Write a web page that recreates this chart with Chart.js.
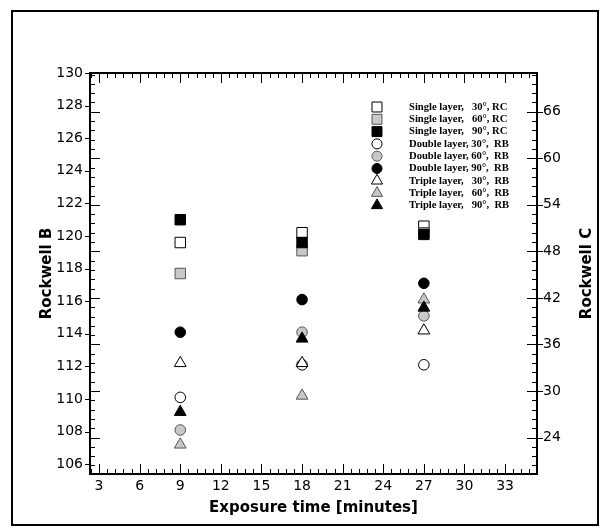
<!DOCTYPE html>
<html>
<head>
<meta charset="utf-8">
<script src="https://cdn.jsdelivr.net/npm/chart.js@4.4.0/dist/chart.umd.min.js"></script>
<style>
  html, body { margin: 0; padding: 0; background: #fff; }
  #wrap { position: relative; width: 607px; height: 531px; }
</style>
</head>
<body>
<div id="wrap"><canvas id="hardnessChart"></canvas></div>
<script>
// Exposure times [minutes]
const exposureTimes = [9, 18, 27];

// Rockwell B readings, one array per specimen
const single30 = [119.6, 120.2, 120.6];
const single60 = [117.7, 119.1, 120.2];
const single90 = [121.0, 119.6, 120.1];
const double30 = [110.1, 112.1, 112.1];
const double60 = [108.1, 114.1, 115.1];
const double90 = [114.1, 116.1, 117.1];
const triple30 = [112.2, 112.2, 114.2];
const triple60 = [107.2, 110.2, 116.1];
const triple90 = [109.2, 113.7, 115.6];

const seriesLabels = [
  "Single layer,   30°, RC",
  "Single layer,   60°, RC",
  "Single layer,   90°, RC",
  "Double layer, 30°,  RB",
  "Double layer, 60°,  RB",
  "Double layer, 90°,  RB",
  "Triple layer,   30°,  RB",
  "Triple layer,   60°,  RB",
  "Triple layer,   90°,  RB",
];

// Tick labels
const xTicks = [3, 6, 9, 12, 15, 18, 21, 24, 27, 30, 33];
const rockwellBTicks = [106, 108, 110, 112, 114, 116, 118, 120, 122, 124, 126, 128, 130];
const rockwellCTicks = [24, 30, 36, 42, 48, 54, 60, 66];

const GRAY = "#c8c8c8";

function makeSet(i, values, shape, fill, edge) {
  const radius = shape === "rect" ? 7.4 : shape === "circle" ? 5.3 : 6.8;
  return {
    label: seriesLabels[i],
    data: exposureTimes.map((t, k) => ({ x: t, y: values[k] })),
    pointStyle: shape,
    pointRadius: radius,
    pointHoverRadius: radius,
    backgroundColor: fill,
    borderColor: edge,
    borderWidth: 1,
    showLine: false,
    order: 9 - i,
    yAxisID: "y",
  };
}

const datasets = [
  makeSet(0, single30, "rect", "#ffffff", "#000"),
  makeSet(1, single60, "rect", GRAY, "#555"),
  makeSet(2, single90, "rect", "#000000", "#000"),
  makeSet(3, double30, "circle", "#ffffff", "#000"),
  makeSet(4, double60, "circle", GRAY, "#555"),
  makeSet(5, double90, "circle", "#000000", "#000"),
  makeSet(6, triple30, "triangle", "#ffffff", "#000"),
  makeSet(7, triple60, "triangle", GRAY, "#555"),
  makeSet(8, triple90, "triangle", "#000000", "#000"),
];

const tickFont = { family: "'DejaVu Sans', sans-serif", size: 14 };
const titleFont = { family: "'DejaVu Sans', sans-serif", size: 15, weight: "bold" };

// Frame, tecplot style tick marks, key and right title
const framePlugin = {
  id: "frame",
  afterDraw(chart) {
    const { ctx, chartArea: a, scales } = chart;
    const sx = scales.x, sb = scales.y, sc = scales.y2;
    ctx.save();
    ctx.strokeStyle = "#000";

    // outer border
    ctx.lineWidth = 2;
    ctx.strokeRect(12, 11, 586, 514);

    ctx.lineWidth = 1;
    ctx.beginPath();
    // x ticks, inward on bottom and top
    for (let v = 2.4; v <= sx.max + 1e-6; v += 0.6) {
      const major = Math.abs(v / 3 - Math.round(v / 3)) < 1e-6;
      const len = major ? 10 : 5;
      const px = Math.round(sx.getPixelForValue(v)) + 0.5;
      ctx.moveTo(px, a.bottom); ctx.lineTo(px, a.bottom - len);
      ctx.moveTo(px, a.top); ctx.lineTo(px, a.top + len);
    }
    // Rockwell B majors, outward on the left
    rockwellBTicks.forEach((v) => {
      const py = Math.round(sb.getPixelForValue(v)) + 0.5;
      ctx.moveTo(a.left, py); ctx.lineTo(a.left - 5, py);
    });
    // Rockwell C ticks, inward on both sides, outward on the right
    for (let v = 19.2 + 1.2; v <= sc.max + 1e-6; v += 1.2) {
      const major = Math.abs(v / 6 - Math.round(v / 6)) < 1e-6;
      const len = major ? 10 : 5;
      const py = Math.round(sc.getPixelForValue(v)) + 0.5;
      ctx.moveTo(a.left, py); ctx.lineTo(a.left + len, py);
      ctx.moveTo(a.right, py); ctx.lineTo(a.right - len, py);
      if (major) { ctx.moveTo(a.right, py); ctx.lineTo(a.right + 6, py); }
    }
    ctx.stroke();

    // plot frame
    ctx.lineWidth = 2;
    ctx.strokeRect(a.left, a.top, a.right - a.left, a.bottom - a.top);

    // symbol key
    ctx.lineWidth = 1;
    ctx.font = "bold 10.6px 'Liberation Serif', serif";
    ctx.textBaseline = "middle";
    ctx.textAlign = "left";
    chart.data.datasets.forEach((ds, i) => {
      const kx = a.left + 287;
      const ky = a.top + 34 + i * 12.3;
      ctx.fillStyle = ds.backgroundColor;
      ctx.strokeStyle = ds.borderColor;
      Chart.helpers.drawPoint(ctx, { pointStyle: ds.pointStyle, radius: ds.pointRadius * 0.95, borderWidth: 1, rotation: 0 }, kx, ky);
      ctx.fillStyle = "#000";
      ctx.fillText(ds.label, a.left + 319, ky);
    });

    // right axis title, reading bottom to top
    ctx.font = "bold 15px 'DejaVu Sans', sans-serif";
    ctx.textAlign = "center";
    ctx.translate(587, (a.top + a.bottom) / 2);
    ctx.rotate(-Math.PI / 2);
    ctx.fillText("Rockwell C", 0, 0);
    ctx.restore();
  },
};

const ctx = document.getElementById("hardnessChart").getContext("2d");
new Chart(ctx, {
  type: "scatter",
  data: { datasets: datasets },
  options: {
    responsive: true,
    maintainAspectRatio: false,
    animation: false,
    layout: { padding: { top: 73 } },
    plugins: {
      legend: { display: false },
      tooltip: { enabled: false },
    },
    scales: {
      x: {
        type: "linear",
        min: 2.33,
        max: 35.36,
        afterBuildTicks: (s) => { s.ticks = xTicks.map((v) => ({ value: v })); },
        afterFit: (s) => { s.height = 57; },
        grid: { display: false, drawTicks: false },
        border: { display: false },
        ticks: { color: "#000", font: tickFont, padding: 4, maxRotation: 0, autoSkip: false },
        title: { display: true, text: "Exposure time [minutes]", color: "#000", font: titleFont, padding: { top: 0, bottom: 14 } },
      },
      y: {
        type: "linear",
        position: "left",
        min: 105.4,
        max: 130,
        afterBuildTicks: (s) => { s.ticks = rockwellBTicks.map((v) => ({ value: v })); },
        afterFit: (s) => { s.width = 90; },
        grid: { display: false, drawTicks: false },
        border: { display: false },
        ticks: { color: "#000", font: tickFont, padding: 7, autoSkip: false },
        title: { display: true, text: "Rockwell B", color: "#000", font: titleFont, padding: { top: 38, bottom: 0 } },
      },
      y2: {
        type: "linear",
        position: "right",
        min: 19.3,
        max: 71.0,
        afterBuildTicks: (s) => { s.ticks = rockwellCTicks.map((v) => ({ value: v })); },
        afterFit: (s) => { s.width = 70; },
        grid: { display: false, drawTicks: false },
        border: { display: false },
        ticks: { color: "#000", font: tickFont, padding: 6, autoSkip: false },
      },
    },
  },
  plugins: [framePlugin],
});
</script>
</body>
</html>
